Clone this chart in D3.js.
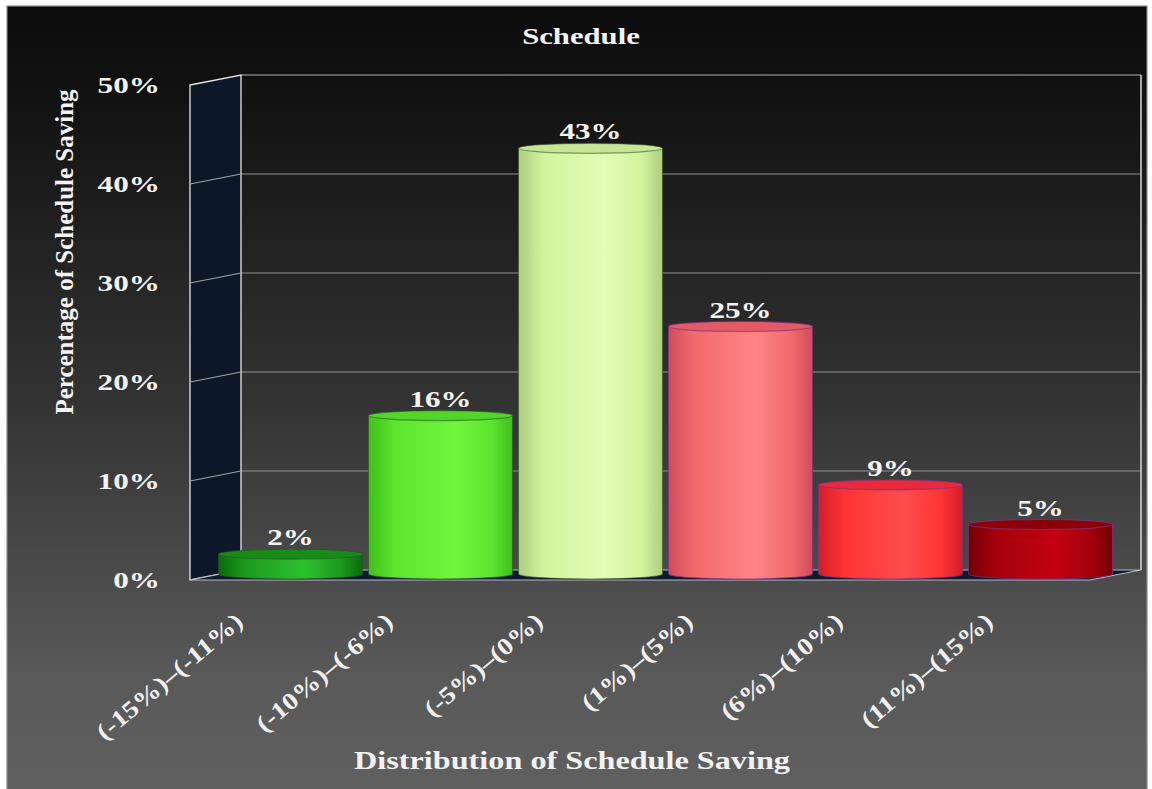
<!DOCTYPE html>
<html><head><meta charset="utf-8">
<script src="https://cdn.jsdelivr.net/npm/d3@7"></script>
<style>html,body{margin:0;padding:0;background:#fff;} svg{display:block;}</style>
</head><body>
<script>
const categories = ["(-15%)–(-11%)", "(-10%)–(-6%)", "(-5%)–(0%)", "(1%)–(5%)", "(6%)–(10%)", "(11%)–(15%)"];
const values = [2, 16, 43, 25, 9, 5];
const yTickValues = [0, 10, 20, 30, 40, 50];
const barBase  = ["#1c9a1c", "#5ce42e", "#d2f49e", "#f26a6c", "#ff3434", "#a4000a"];
const barEdge  = ["#0b6a0b", "#40bf1c", "#aecd80", "#d04c5c", "#d41c2a", "#720006"];
const barLight = ["#2ec02e", "#72f63e", "#e2fdb4", "#ff8486", "#ff4c4c", "#c40012"];
const barTop   = ["#188c18", "#52d628", "#c6e696", "#e65a68", "#ea2a3a", "#8c0008"];
const chartTitle = "Schedule";
const yTitle = "Percentage of Schedule Saving";
const xTitle = "Distribution of Schedule Saving";

const W = 1152, H = 789;
const svg = d3.select("body").append("svg").attr("width", W).attr("height", H);
const defs = svg.append("defs");

const bg = defs.append("linearGradient").attr("id", "bg").attr("x1", 0).attr("x2", 0).attr("y1", 0).attr("y2", 1);
[[0, "#0c0c0c"], [0.12, "#121212"], [0.5, "#333333"], [0.85, "#595959"], [1, "#606060"]]
  .forEach(([o, c]) => bg.append("stop").attr("offset", o).attr("stop-color", c));

svg.append("rect").attr("x", 7).attr("y", 6).attr("width", 1140).attr("height", 790)
  .attr("fill", "url(#bg)").attr("stroke", "#8a8a8a").attr("stroke-width", 1.2);

const x = d3.scaleBand().domain(categories).range([241, 1141]).paddingInner(0.04).paddingOuter(0.02);
const y = d3.scaleLinear().domain([0, 50]).range([570, 75]);
const depth = { dx: -51, dy: 10 };
const mid = { dx: -25.5, dy: 4 };
const x0 = x.range()[0], x1 = x.range()[1];

// back wall grid lines
svg.append("g").selectAll("line").data(yTickValues.filter(d => d > 0)).join("line")
  .attr("x1", x0).attr("x2", x1).attr("y1", d => y(d)).attr("y2", d => y(d))
  .attr("stroke", d => d === 50 ? "#b0b0b0" : "#909090").attr("stroke-width", 1.2);
svg.append("line").attr("x1", x1).attr("x2", x1).attr("y1", y(50)).attr("y2", y(0))
  .attr("stroke", "#d8d8d8").attr("stroke-width", 1.5);

// side wall
svg.append("polygon")
  .attr("points", [[x0 + depth.dx, y(50) + depth.dy], [x0, y(50)], [x0, y(0)], [x0 + depth.dx, y(0) + depth.dy]].map(p => p.join(",")).join(" "))
  .attr("fill", "#0c1828").attr("stroke", "#e6e6e6").attr("stroke-width", 1.3);
svg.append("g").selectAll("line").data(yTickValues.filter(d => d > 0 && d < 50)).join("line")
  .attr("x1", x0 + depth.dx).attr("x2", x0).attr("y1", d => y(d) + depth.dy).attr("y2", d => y(d))
  .attr("stroke", "#a0a0a0").attr("stroke-width", 1.1);

// floor
svg.append("polygon")
  .attr("points", [[x0 + depth.dx, y(0) + depth.dy], [x1 + depth.dx, y(0) + depth.dy], [x1, y(0)], [x0, y(0)]].map(p => p.join(",")).join(" "))
  .attr("fill", "#0e1a30").attr("stroke", "#b8b8c8").attr("stroke-width", 1.2);

// y tick labels
svg.append("g").selectAll("text").data(yTickValues).join("text")
  .attr("transform", d => `translate(160,${y(d) + depth.dy + 8}) scale(1.3,1)`)
  .attr("text-anchor", "end")
  .attr("font-family", "Liberation Serif, serif").attr("font-weight", "bold").attr("font-size", 24)
  .attr("fill", "#f2f2f2").text(d => d + "%");

// bars
const bw = x.bandwidth(), rx = bw / 2, ry = 5;
categories.forEach((c, i) => {
  const g = defs.append("linearGradient").attr("id", "bar" + i).attr("x1", 0).attr("x2", 1).attr("y1", 0).attr("y2", 0);
  [[0, barEdge[i]], [0.18, barBase[i]], [0.6, barLight[i]], [0.85, barBase[i]], [1, barEdge[i]]]
    .forEach(([o, col]) => g.append("stop").attr("offset", o).attr("stop-color", col));
});
const bars = svg.append("g").selectAll("g").data(categories).join("g");
bars.each(function (c, i) {
  const sel = d3.select(this);
  const cx = x(c) + bw / 2 + mid.dx;
  const yb = y(0) + mid.dy;
  const yt = y(values[i]) + mid.dy;
  const outline = i < 3 ? "rgba(40,80,40,0.55)" : "rgba(130,50,130,0.7)";
  sel.append("path")
    .attr("d", `M${cx - rx},${yt} L${cx - rx},${yb} A${rx},${ry} 0 0 0 ${cx + rx},${yb} L${cx + rx},${yt} Z`)
    .attr("fill", `url(#bar${i})`).attr("stroke", outline).attr("stroke-width", 1);
  sel.append("ellipse").attr("cx", cx).attr("cy", yt).attr("rx", rx).attr("ry", ry)
    .attr("fill", barTop[i]).attr("stroke", outline).attr("stroke-width", 1.2);
  sel.append("text")
    .attr("transform", `translate(${cx},${yt - 9}) scale(1.35,1)`)
    .attr("text-anchor", "middle")
    .attr("font-family", "Liberation Serif, serif").attr("font-weight", "bold").attr("font-size", 23)
    .attr("fill", "#f4f4f4").text(values[i] + "%");
});

// x labels
svg.append("g").selectAll("text").data(categories).join("text")
  .attr("transform", c => `translate(${x(c) + bw / 2 + mid.dx - 46},${y(0) + depth.dy + 44}) rotate(-40) scale(1.18,1)`)
  .attr("text-anchor", "end")
  .attr("font-family", "Liberation Serif, serif").attr("font-weight", "bold").attr("font-size", 24)
  .attr("fill", "#f0f0f0").text(c => c);

// titles
svg.append("text").attr("transform", "translate(581,44) scale(1.28,1)")
  .attr("text-anchor", "middle").attr("font-family", "Liberation Serif, serif").attr("font-weight", "bold")
  .attr("font-size", 24).attr("fill", "#f4f4f4").text(chartTitle);

svg.append("text").attr("transform", "translate(73,252) rotate(-90)")
  .attr("text-anchor", "middle").attr("font-family", "Liberation Serif, serif").attr("font-weight", "bold")
  .attr("font-size", 25).attr("fill", "#f2f2f2").text(yTitle);

svg.append("text").attr("transform", "translate(572,769) scale(1.24,1)")
  .attr("text-anchor", "middle").attr("font-family", "Liberation Serif, serif").attr("font-weight", "bold")
  .attr("font-size", 26).attr("fill", "#f2f2f2").text(xTitle);
</script>
</body></html>
